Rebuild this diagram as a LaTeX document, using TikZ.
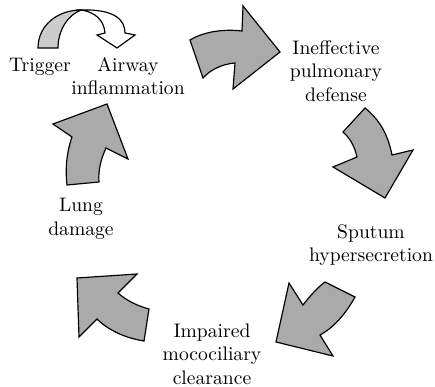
\documentclass[tikz,border=0pt]{standalone}
\definecolor{arrowgray}{RGB}{170,170,170}
\definecolor{ribbongray}{RGB}{204,204,204}
\begin{document}
\begin{tikzpicture}[
            x=0.51pt,
            y=-0.51pt,
            stage/.style={align=center, inner sep=0pt},
            ringarrow/.style={draw=black, fill=arrowgray, line width=0.6pt, line join=miter},
            ribbon/.style={draw=black, line width=0.6pt, line join=miter}
        ]
        \useasboundingbox (0,0) rectangle (435,387);

        \node[stage] (trigger) at (40,67) {Trigger};
        \node[stage] (airway) at (128,76) {Airway\\inflammation};
        \node[stage] (defense) at (336,71) {Ineffective\\pulmonary\\defense};
        \node[stage] (sputum) at (371,245) {Sputum\\hypersecretion};
        \node[stage] (clearance) at (212,354) {Impaired\\mocociliary\\clearance};
        \node[stage] (damage) at (81,219) {Lung\\damage};

        \draw[ribbon, fill=ribbongray] (38,48) .. controls (38,25) and (58,10) .. (81,10)
            .. controls (68,15) and (58,30) .. (58,48) -- cycle;
        \draw[ribbon, fill=white] (81,10) .. controls (115,9) and (125,20) .. (125,33)
            -- (135,35) -- (117,48) -- (97,35) -- (105,33)
            .. controls (104,20) and (95,12) .. (81,10) -- cycle;

        \draw[ringarrow] (190,40) .. controls (205,31) and (225,29) .. (242,31)
            -- (243,6) -- (280,52) -- (233,89) -- (235,63)
            .. controls (222,64) and (210,70) .. (203,78) -- cycle;
        \draw[ringarrow] (365,108) .. controls (380,120) and (388,135) .. (392,155)
            -- (413,150) -- (385,198) -- (333,167) -- (357,157)
            .. controls (355,148) and (351,139) .. (343,132) -- cycle;
        \draw[ringarrow] (355,297) .. controls (345,315) and (333,328) .. (320,335)
            -- (333,356) -- (276,342) -- (289,283) -- (303,305)
            .. controls (310,296) and (318,287) .. (325,282) -- cycle;
        \draw[ringarrow] (144,341) .. controls (125,338) and (108,330) .. (97,319)
            -- (79,337) -- (77,278) -- (137,274) -- (118,293)
            .. controls (127,301) and (138,306) .. (149,309) -- cycle;
        \draw[ringarrow] (67,185) .. controls (65,168) and (67,151) .. (72,137)
            -- (53,124) -- (107,104) -- (128,159) -- (106,148)
            .. controls (101,159) and (98,170) .. (99,182) -- cycle;
    \end{tikzpicture}
\end{document}
